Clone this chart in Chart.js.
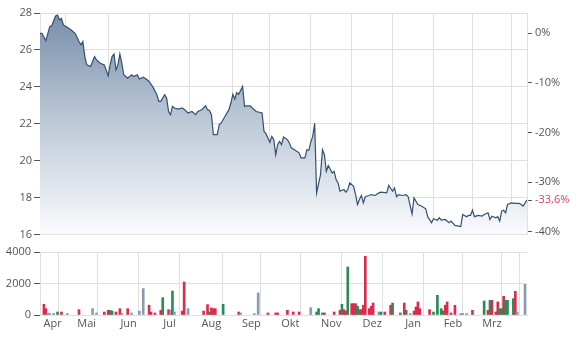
<!DOCTYPE html>
<html>
<head>
<meta charset="utf-8">
<script src="https://cdn.jsdelivr.net/npm/chart.js@4"></script>
<style>
body { margin: 0; background: #fff; }
#wrap { position: relative; width: 579px; height: 340px; }
#price-chart { position: absolute; left: 0; top: 0; }
#vol-chart { position: absolute; left: 0; top: 240px; }
</style>
</head>
<body>
<div id="wrap">
<canvas id="price-chart" width="579" height="244"></canvas>
<canvas id="vol-chart" width="579" height="100"></canvas>
</div>
<script>
const ctxPrice = document.getElementById('price-chart');
const ctxVol = document.getElementById('vol-chart');

// trading day index of the first day of each month
const monthStarts = [13, 35, 56, 77, 99, 118, 139, 160, 181, 202, 222, 242]
const monthNames = ['Apr', 'Mai', 'Jun', 'Jul', 'Aug', 'Sep', 'Okt', 'Nov', 'Dez', 'Jan', 'Feb', 'Mrz']
const lastDay = 250

const priceTicks = [16, 18, 20, 22, 24, 26, 28]
const pctTicks = [0, -10, -20, -30, -40]
const volTicks = [0, 2000, 4000]

// Kurs (trading day, price)
const priceDays = [0,1,3,5,6,7,8,9,10,11,12,14,16,18,19,20,21,22,23,24,26,27,28,29,31,33,35,36,37,38,
  39,40,41,42,43,45,47,48,50,51,53,55,56,58,60,61,62,64,65,66,67,68,69,71,73,74,76,78,80,81,
  83,85,86,87,88,89,91,92,93,95,97,98,99,100,101,102,104,105,106,108,109,111,114,115,116,117,118,119,120,121,
  122,123,124,125,127,128,129,131,133,134,136,137,138,139,140,141,142,144,145,146,147,148,150,151,152,153,154,156,157,158,
  159,161,162,163,164,165,166,167,169,170,172,174,175,178,179,181,182,183,184,186,188,189,191,192,194,196,198,199,201,202,
  204,205,206,208,210,211,213,216,217,219,220,221,222,223,225,227,228,230,231,232,234,235,236,237,238,239,240,242,244,246,
  247,248,250]
const priceValues = [26.90,26.90,26.50,27.26,27.30,27.58,27.84,27.89,27.62,27.71,
  27.35,27.23,27.08,26.90,26.69,26.45,26.27,26.45,25.64,25.19,
  25.10,25.37,25.64,25.46,25.28,25.19,24.59,25.19,25.64,25.78,
  24.92,25.19,25.78,25.28,24.65,24.47,24.65,24.56,24.65,24.42,
  24.52,24.38,24.29,23.98,23.57,23.21,23.21,23.57,23.39,22.66,
  22.49,22.94,22.85,22.79,22.85,22.79,22.58,22.66,22.49,22.66,
  22.76,22.97,22.76,22.72,22.49,21.41,21.41,21.95,22.04,22.40,
  22.76,23.12,23.60,23.34,23.69,23.60,24.02,22.94,22.97,22.97,
  22.85,22.66,22.58,21.58,21.46,21.23,20.99,21.31,21.14,20.32,
  20.86,21.04,20.86,21.28,21.14,20.96,20.69,20.56,20.42,20.15,
  20.15,20.59,20.56,21.00,21.31,22.02,18.25,19.24,20.59,20.32,
  19.42,19.73,19.33,19.42,18.97,18.79,18.34,18.43,18.29,18.43,
  18.79,18.61,18.16,17.62,17.89,18.11,17.71,18.04,18.11,18.16,
  18.11,18.25,18.29,18.25,18.65,18.34,18.52,18.04,18.16,18.11,
  18.16,18.04,17.11,17.98,17.62,17.53,17.39,16.96,16.63,16.85,
  16.77,16.90,16.77,16.81,16.63,16.72,16.49,16.42,17.08,16.96,
  17.03,17.03,17.31,16.96,17.03,16.99,17.08,17.17,16.81,16.99,
  16.90,16.96,16.72,17.26,17.31,17.17,17.62,17.71,17.68,17.68,
  17.62,17.53,17.86]

// Volumen (trading day, volume, u = up / d = down / n = unchanged)
const volDays = [2,3,4,5,7,9,11,14,20,27,29,33,35,36,37,39,41,42,45,47,
  51,53,56,57,59,62,63,66,67,68,69,73,74,76,84,86,87,88,89,90,
  94,102,103,110,112,117,121,122,127,130,133,139,142,143,145,146,151,154,155,156,
  157,158,160,161,162,163,164,165,166,167,169,170,171,174,175,177,180,181,185,187,
  188,190,192,193,194,195,200,202,204,206,207,208,209,211,213,216,217,219,222,228,
  230,231,232,234,235,236,237,238,239,240,243,244,245,249]
const volValues = [680,400,130,100,100,190,190,100,340,400,130,190,300,300,250,190,400,100,400,130,
  250,1680,620,190,130,300,1100,340,300,1520,190,250,2100,400,250,660,190,450,400,400,
  680,190,130,100,1400,130,130,130,300,190,190,470,190,400,130,130,190,300,680,340,
  250,3050,720,720,720,550,340,340,620,3730,400,550,760,190,190,190,620,760,130,760,
  300,100,250,510,830,400,340,190,1250,400,250,620,830,130,620,100,100,100,300,890,
  300,930,930,190,830,400,400,1190,930,930,1040,1500,190,1950]
const volDir = ['d','d','n','n','n','u','d','n','d','n','n','d','d','u','u','d','d','n','d','n',
  'n','n','d','d','d','d','u','d','n','u','n','d','d','n','d','d','u','d','d','d',
  'u','d','n','n','n','d','d','d','d','d','d','n','u','u','u','d','d','d','u','d',
  'd','u','d','d','d','u','u','d','d','d','d','d','d','n','u','d','d','u','u','d',
  'u','n','d','d','d','d','d','u','u','u','u','d','d','d','d','n','n','n','d','u',
  'd','u','d','d','d','u','u','d','u','u','u','d','n','n']

const basePrice = priceValues[0]
const lastPrice = priceValues[priceValues.length - 1]
const lastPct = Math.round((lastPrice / basePrice - 1) * 1000) / 10

const dirColors = { u: '#2b8a55', d: '#dc2b4c', n: '#8a9bb0' }
const textColor = '#555'
const gridColor = '#e0e0e0'
const font = { family: '"Open Sans", sans-serif', size: 11 }

// Monatsmitte fuer die Beschriftung
const monthMids = monthStarts.map((s, i) => ((i === 0 ? 0 : monthStarts[i - 1]) + s) / 2)

const pctFormat = (v) => {
    const txt = v === lastPct ? v.toFixed(1) : v.toFixed(0)
    return txt.replace('.', ',') + '%'
}

new Chart(ctxPrice, {
    type: 'line',
    data: {
        datasets: [{
            data: priceDays.map((d, i) => ({ x: d, y: priceValues[i] })),
            borderColor: '#34506f',
            borderWidth: 1.2,
            pointRadius: 0,
            tension: 0,
            fill: 'start',
            backgroundColor: (c) => {
                const a = c.chart.chartArea
                if (!a) return 'rgba(0,0,0,0)'
                const g = c.chart.ctx.createLinearGradient(0, a.top, 0, a.bottom)
                g.addColorStop(0, 'rgb(120,142,170)')
                g.addColorStop(0.5, 'rgb(190,202,216)')
                g.addColorStop(1, 'rgb(250,251,253)')
                return g
            }
        }]
    },
    options: {
        responsive: false,
        animation: false,
        layout: { padding: { top: 13, bottom: 6, left: 0, right: 0 } },
        plugins: { legend: { display: false }, tooltip: { enabled: false } },
        scales: {
            x: {
                type: 'linear', min: 0, max: lastDay,
                afterBuildTicks: (s) => { s.ticks = [0, ...monthStarts, lastDay].map(v => ({ value: v })) },
                ticks: { display: false },
                grid: { color: gridColor, drawTicks: false },
                border: { color: gridColor },
                afterFit: (s) => { s.height = 0 }
            },
            y: {
                position: 'left', min: priceTicks[0], max: priceTicks[priceTicks.length - 1],
                afterBuildTicks: (s) => { s.ticks = priceTicks.map(v => ({ value: v })) },
                ticks: { color: textColor, font: font, padding: 2 },
                grid: { color: gridColor, tickColor: textColor, tickLength: 6 },
                border: { color: gridColor },
                afterFit: (s) => { s.width = 40 }
            },
            pct: {
                position: 'right',
                min: (priceTicks[0] / basePrice - 1) * 100,
                max: (priceTicks[priceTicks.length - 1] / basePrice - 1) * 100,
                afterBuildTicks: (s) => { s.ticks = [...pctTicks, lastPct].map(v => ({ value: v })) },
                ticks: {
                    autoSkip: false, font: font, padding: 3,
                    color: (c) => c.tick && c.tick.value === lastPct ? '#d9435a' : textColor,
                    callback: (v) => pctFormat(v)
                },
                grid: { drawOnChartArea: false, tickColor: textColor, tickLength: 5 },
                border: { color: gridColor },
                afterFit: (s) => { s.width = 52 }
            }
        }
    }
});

new Chart(ctxVol, {
    type: 'bar',
    data: {
        datasets: [{
            data: volDays.map((d, i) => ({ x: d, y: volValues[i] })),
            backgroundColor: volDir.map(d => dirColors[d]),
            barThickness: 2
        }]
    },
    options: {
        responsive: false,
        animation: false,
        layout: { padding: { top: 12, bottom: 0, left: 0, right: 52 } },
        plugins: { legend: { display: false }, tooltip: { enabled: false } },
        scales: {
            x: {
                type: 'linear', min: 0, max: lastDay, offset: false,
                afterBuildTicks: (s) => {
                    s.ticks = [0, ...monthStarts, lastDay, ...monthMids].sort((a, b) => a - b).map(v => ({ value: v }))
                },
                ticks: {
                    autoSkip: false, maxRotation: 0, color: textColor, font: font, padding: 2,
                    callback: (v) => {
                        const i = monthMids.indexOf(v)
                        return i >= 0 ? monthNames[i] : ''
                    }
                },
                grid: {
                    drawTicks: false,
                    color: (c) => c.tick && monthMids.indexOf(c.tick.value) < 0 ? gridColor : 'rgba(0,0,0,0)'
                },
                border: { color: gridColor },
                afterFit: (s) => { s.height = 25 }
            },
            y: {
                min: volTicks[0], max: volTicks[volTicks.length - 1],
                afterBuildTicks: (s) => { s.ticks = volTicks.map(v => ({ value: v })) },
                ticks: { color: textColor, font: font, padding: 3, callback: (v) => String(v) },
                grid: { color: gridColor, tickColor: textColor, tickLength: 6 },
                border: { color: gridColor },
                afterFit: (s) => { s.width = 40 }
            }
        }
    }
});
</script>
</body>
</html>
